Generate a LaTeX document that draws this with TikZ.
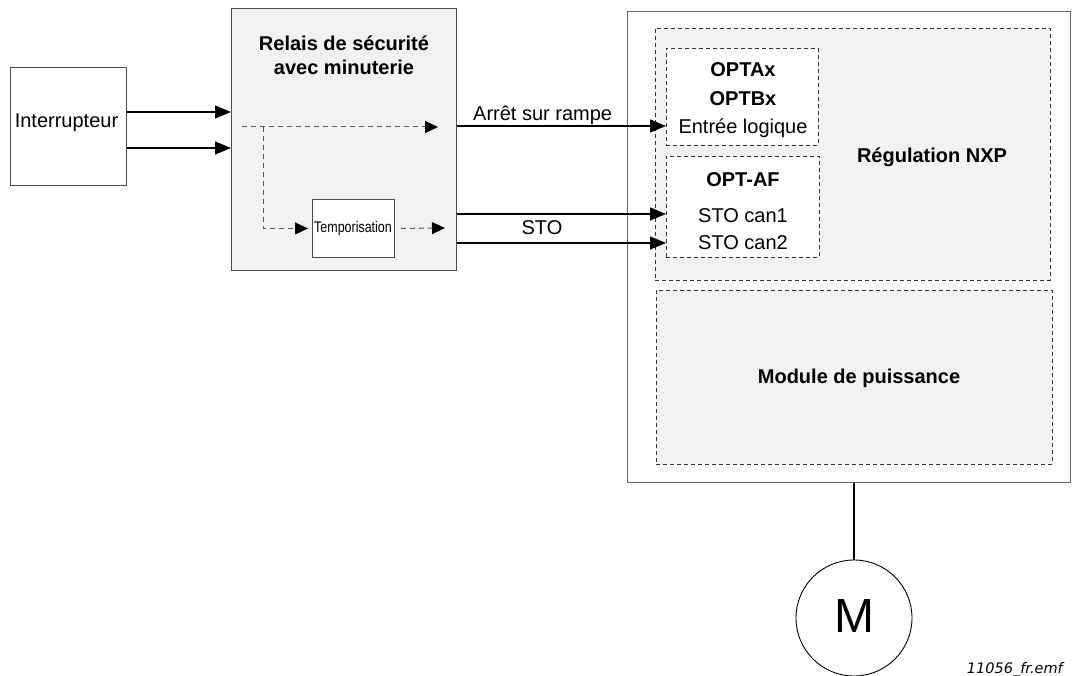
\documentclass[tikz,border=0pt]{standalone}
\usepackage{fontspec}
\setmainfont{Liberation Sans}
\newfontfamily\notefont{DejaVu Sans}
\usetikzlibrary{arrows.meta, positioning, calc}

\begin{document}
\begin{tikzpicture}[
    x=1pt, y=-1pt,
    box/.style={rectangle, draw=black!70, line width=0.9pt, fill=white, inner sep=0pt, anchor=north west},
    grey/.style={fill=black!5},
    dbox/.style={box, draw=black!80, dash pattern=on 4pt off 3pt},
    txt/.style={inner sep=0pt, align=center, font=\fontsize{20}{24}\selectfont},
    btxt/.style={txt, font=\fontsize{20}{24}\selectfont\bfseries},
    arrow/.style={-{Triangle[length=16pt, width=13pt]}, line width=1.4pt},
    darrow/.style={-{Triangle[length=13pt, width=12pt, color=black]}, line width=1pt, draw=black!65, dash pattern=on 5pt off 4pt}
]
    \useasboundingbox (0,0) rectangle (1072,676);

    % boxes
    \node[box, minimum width=116pt, minimum height=118pt] (switch) at (10,67) {};
    \node[box, grey, minimum width=225pt, minimum height=262pt] (relay) at (231,8) {};
    \node[box, minimum width=82pt, minimum height=58pt] (delay) at (312,199) {};
    \node[box, draw=black!60, line width=1.2pt, minimum width=443pt, minimum height=471pt] (drive) at (627,11) {};
    \node[dbox, grey, minimum width=395pt, minimum height=252pt] (control) at (655,28) {};
    \node[dbox, minimum width=152pt, minimum height=97pt] (optab) at (666,48) {};
    \node[dbox, minimum width=153pt, minimum height=101pt] (optaf) at (666,156) {};
    \node[dbox, grey, minimum width=396pt, minimum height=174pt] (power) at (656,290) {};
    \node[circle, draw, line width=0.9pt, minimum size=116pt, inner sep=0pt] (motor) at (854,618) {};

    % texts
    \node[txt, anchor=base] (switchlbl) at (66.5,128) {Interrupteur};
    \node[btxt, anchor=north] (relaylbl) at (344,36) {Relais de sécurité\\avec minuterie};
    \node[txt, anchor=base, font=\fontsize{15.4}{18}\selectfont] (delaylbl) at (353,233) {\scalebox{0.81}[1]{Temporisation}};
    \node[txt, anchor=north, font=\fontsize{20}{28.5}\selectfont] (optablbl) at (743,62.7) {\textbf{OPTAx}\\\textbf{OPTBx}\\Entrée logique};
    \node[txt, anchor=north, font=\fontsize{20}{27}\selectfont] (optaflbl) at (743,172.7) {\textbf{OPT-AF}\\[9pt]STO can1\\STO can2};
    \node[btxt, anchor=base] (controllbl) at (932,163) {Régulation NXP};
    \node[btxt, anchor=base] (powerlbl) at (859,384) {Module de puissance};
    \node[txt, anchor=base, font=\fontsize{48}{50}\selectfont] (motorlbl) at (854,632) {M};
    \node[anchor=base east, inner sep=0pt, font=\notefont\itshape\fontsize{14.5}{16}\selectfont] (fileref) at (1063,673) {11056\_fr.emf};

    % levels of the connectors
    \coordinate (in1) at (0,112);
    \coordinate (in2) at (0,148);
    \coordinate (ramp) at (0,126);
    \coordinate (sto1) at (0,214);
    \coordinate (sto2) at (0,243);
    \coordinate (dstart) at (242,127);
    \coordinate (dsplit) at (263,127);
    \coordinate (dend) at (438,127);
    \coordinate (dout) at (445,228);

    % connectors
    \draw[arrow] (switch.east |- in1) -- (relay.west |- in1);
    \draw[arrow] (switch.east |- in2) -- (relay.west |- in2);
    \draw[darrow] (dstart) -- (dend);
    \draw[darrow, shorten >=4pt] (dsplit) |- (delay.west);
    \draw[darrow] ([xshift=6pt]delay.east) -- (dout);
    \draw[arrow] (relay.east |- ramp) -- node[txt, above=1pt, pos=0.41] (ramplbl) {Arrêt sur rampe} (optab.west |- ramp);
    \draw[arrow] (relay.east |- sto1) -- (optaf.west |- sto1);
    \draw[arrow] (relay.east |- sto2) -- (optaf.west |- sto2);
    \node[txt, anchor=base] (stolbl) at (542,235) {STO};
    \draw[line width=2.2pt] (motor.north) -- (motor.north |- drive.south);

\end{tikzpicture}
\end{document}
